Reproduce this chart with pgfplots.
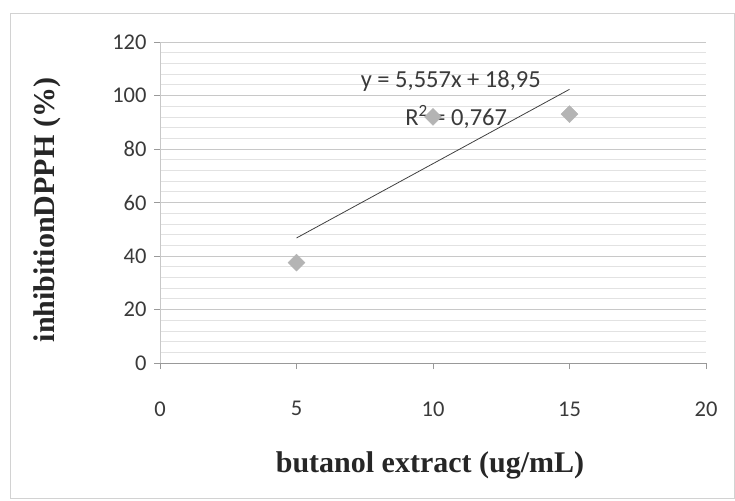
\documentclass[border=0pt]{standalone}
\usepackage{pgfplots}
\pgfplotsset{compat=1.18}
\usepackage{fontspec}
\setmainfont{Carlito}
\newfontfamily\labfont{Liberation Serif}
\definecolor{gridmaj}{HTML}{C8C8C8}
\definecolor{gridmin}{HTML}{E2E2E2}
\definecolor{tickc}{HTML}{3A3A3A}
\definecolor{markc}{HTML}{B4B4B4}
\begin{document}
\begin{tikzpicture}[x=1pt,y=1pt]
\useasboundingbox (0,0) rectangle (735,500);
\draw[gray!35, line width=0.8pt] (10,2) rectangle (734,487);
\begin{axis}[
  at={(160pt,137pt)}, anchor=south west,
  scale only axis, width=546pt, height=321pt,
  xmin=0, xmax=20, ymin=0, ymax=120,
  xtick={0,5,10,15,20}, ytick={0,20,...,120},
  minor y tick num=4,
  axis x line=bottom, axis y line=left,
  axis line style={-, gridmaj, line width=0.8pt},
  x axis line style={gray!80},
  ymajorgrids, yminorgrids,
  major grid style={gridmaj, line width=0.8pt},
  minor grid style={gridmin, line width=0.6pt},
  tick style={gray!80, line width=0.8pt},
  major tick length=6pt, minor tick length=0pt,
  tick align=outside,
  /pgf/number format/assume math mode=true,
  ticklabel style={font=\fontsize{22.5}{26}\selectfont, text=tickc},
  xticklabel style={yshift=-29pt},
  yticklabel style={xshift=-4pt},
  clip=false,
]
\addplot[only marks, mark=square*, mark size=6pt, mark options={rotate=45, fill=markc, draw=markc}]
  coordinates {(5,37.5) (10,92) (15,93)};
\addplot[no marks, color=black!75, line width=0.8pt] coordinates {(5,46.735) (15,102.305)};
\node[font=\fontsize{24.5}{28}\selectfont, text=tickc] at (axis cs:10.65,105.5) {y = 5,557x + 18,95};
\node[font=\fontsize{24.5}{28}\selectfont, text=tickc] at (axis cs:10.85,91.8) {R\textsuperscript{2} = 0,767};
\end{axis}
\node[font=\labfont\bfseries\fontsize{30}{34}\selectfont, text=black!85, rotate=90] at (47,290) {inhibitionDPPH (\%)};
\node[font=\labfont\bfseries\fontsize{30}{34}\selectfont, text=black!85] at (430,35) {butanol extract (ug/mL)};
\end{tikzpicture}
\end{document}
